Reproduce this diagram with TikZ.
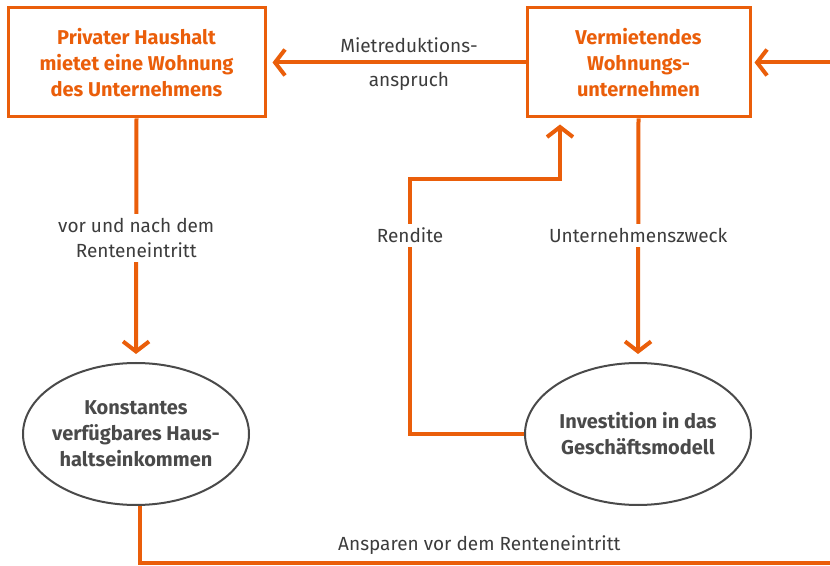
\documentclass[tikz,border=0pt]{standalone}
\usepackage{fontspec}
\setmainfont{Fira Sans}
\usetikzlibrary{arrows.meta,shapes.geometric,positioning}
\definecolor{hhorange}{RGB}{234,94,10}
\definecolor{hhgray}{RGB}{74,74,74}
\definecolor{hhtext}{RGB}{60,60,60}
\tikzset{
  orgbox/.style={draw=hhorange, line width=1.5pt, text=hhorange, align=center, inner sep=0pt,
    font=\bfseries\fontsize{10}{13}\selectfont, minimum height=54.5pt},
  goal/.style={ellipse, draw=hhgray, line width=1pt, text=hhgray, align=center, inner sep=0pt,
    font=\bfseries\fontsize{10}{13}\selectfont, minimum width=113pt, minimum height=71pt},
  flowline/.style={draw=hhorange, line width=2pt},
  flow/.style={flowline, -{Straight Barb[length=5pt,width=13pt]}},
  lbl/.style={fill=white, text=hhtext, align=center, inner sep=2pt,
    font=\fontsize{9.5}{12.5}\selectfont}
}
\begin{document}
\begin{tikzpicture}[x=0.5pt, y=-0.5pt]
  \useasboundingbox (0,0) rectangle (830,566);

  \node[orgbox, minimum width=128.5pt] (haushalt) at (136.5, 62.5) {Privater Haushalt\\mietet eine Wohnung\\des Unternehmens};
  \node[orgbox, minimum width=111.5pt] (unternehmen) at (638.5, 62.5) {Vermietendes\\Wohnungs-\\unternehmen};
  \node[goal, inner xsep=-4pt] (einkommen) at (136, 434) {Konstantes\\verfügbares Haus-\\haltseinkommen};
  \node[goal] (investition) at (638, 434) {Investition in das\\Geschäftsmodell};

  % free ends at the right margin
  \coordinate (rechtsoben) at (830, 62.5);
  \coordinate (rechtsunten) at (830, 563);
  \coordinate (knick) at (410, 179);

  % top row
  \draw[flow, shorten >=3pt] (unternehmen) -- node[lbl, fill=none, above=2pt, pos=0.45] (mietlbl) {Mietreduktions-}
    node[lbl, fill=none, below=2pt, pos=0.45] (anspruchlbl) {anspruch} (haushalt);
  \draw[flow, shorten >=1.5pt] (rechtsoben) -- (unternehmen);

  % downward arrows
  \draw[flow, shorten >=4pt] (haushalt.south) -- node[lbl, pos=0.49] (vorlbl) {vor und nach dem\\Renteneintritt} (einkommen.north);
  \draw[flow, shorten >=4pt] (unternehmen.south) -- node[lbl, pos=0.48] (zwecklbl) {Unternehmenszweck} (investition.north);

  % return path
  \draw[flow, shorten >=3pt] (investition.west) -| node[lbl, pos=0.89] (renditelbl) {Rendite} (knick)
    -| ([xshift=-39.25pt]unternehmen.south);

  % bottom line
  \draw[flowline] (einkommen.-87) |- node[lbl, fill=none, above=1pt, pos=0.746] (sparlbl) {Ansparen vor dem Renteneintritt} (rechtsunten);
\end{tikzpicture}
\end{document}
